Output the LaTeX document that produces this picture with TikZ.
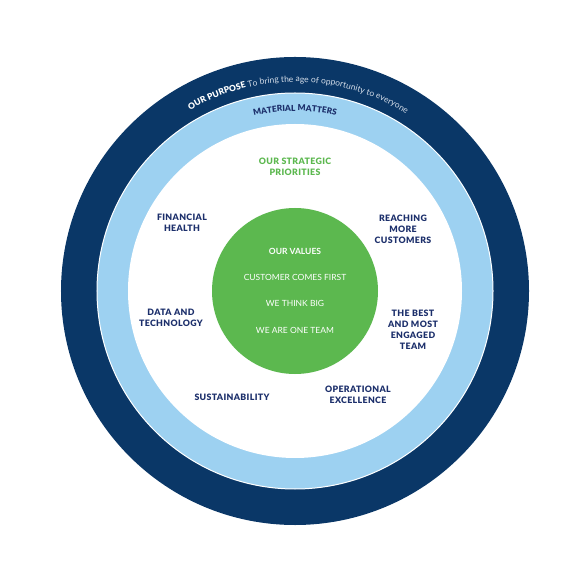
\documentclass[tikz,border=0pt]{standalone}
\usepackage{fontspec}
\setmainfont{Lato}
\setsansfont{Lato}
\IfFontExistsTF{Lato Black}
  {\newfontfamily\heavyfont[LetterSpace=4]{Lato Black}}
  {\newfontfamily\heavyfont[LetterSpace=4, FakeBold=1.5]{Lato Bold}}
\usetikzlibrary{decorations.text}
\definecolor{cnavy}{HTML}{0A3767}
\definecolor{clight}{HTML}{9DD1F1}
\definecolor{cgreen}{HTML}{5CB84F}
\definecolor{cink}{HTML}{1C2F6B}
\definecolor{cpale}{HTML}{D3DCE8}
\tikzset{
  every picture/.style={font=\sffamily, x=1pt, y=1pt},
  prio/.style={font=\heavyfont\fontsize{8.8}{11}\selectfont, text=cink, align=center, inner sep=1pt},
  value/.style={font=\sffamily\fontsize{8.5}{10}\selectfont, text=white, inner sep=1pt},
}

\begin{document}
\begin{tikzpicture}
  \useasboundingbox (-295,-294) rectangle (288,291);
  % rings
  \fill[cnavy] (0,0) circle (234);
  \fill[clight] (0,0) circle (198);
  \draw[white, line width=1] (0,0) circle (198);
  \fill[white] (0,0) circle (167);
  \fill[cgreen] (0,0) circle (83);
  % text round the rings
  \path[decorate, decoration={text along path, text align=center, text color=white,
    text={|\heavyfont\fontsize{8.5}{9}\selectfont|OUR PURPOSE |\sffamily\fontsize{8.5}{9}\selectfont\color{cpale}|To bring the age of opportunity to everyone}}]
    (178:209) arc[start angle=178, end angle=0, radius=209];
  \path[decorate, decoration={text along path, text align=center, text color=cink,
    text={|\heavyfont\fontsize{8.3}{9}\selectfont|MATERIAL MATTERS}}]
    (180:180) arc[start angle=180, end angle=0, radius=180];
  % strategic priorities
  \node[prio, text=cgreen] (strat) at (0,124) {OUR STRATEGIC\\PRIORITIES};
  \node[prio] (fin) at (-113,68) {FINANCIAL\\HEALTH};
  \node[prio] (reach) at (108,62) {REACHING\\MORE\\CUSTOMERS};
  \node[prio] (data) at (-124,-27) {DATA AND\\TECHNOLOGY};
  \node[prio] (team) at (118,-39) {THE BEST\\AND MOST\\ENGAGED\\TEAM};
  \node[prio] (sust) at (-63,-106) {SUSTAINABILITY};
  \node[prio] (oper) at (63,-104) {OPERATIONAL\\EXCELLENCE};
  % values
  \node[value, font=\sffamily\bfseries\fontsize{8.5}{10}\selectfont] (values) at (0,40) {OUR VALUES};
  \node[value] (first) at (0,14) {CUSTOMER COMES FIRST};
  \node[value] (big) at (0,-12) {WE THINK BIG};
  \node[value] (one) at (0,-39) {WE ARE ONE TEAM};
\end{tikzpicture}
\end{document}
